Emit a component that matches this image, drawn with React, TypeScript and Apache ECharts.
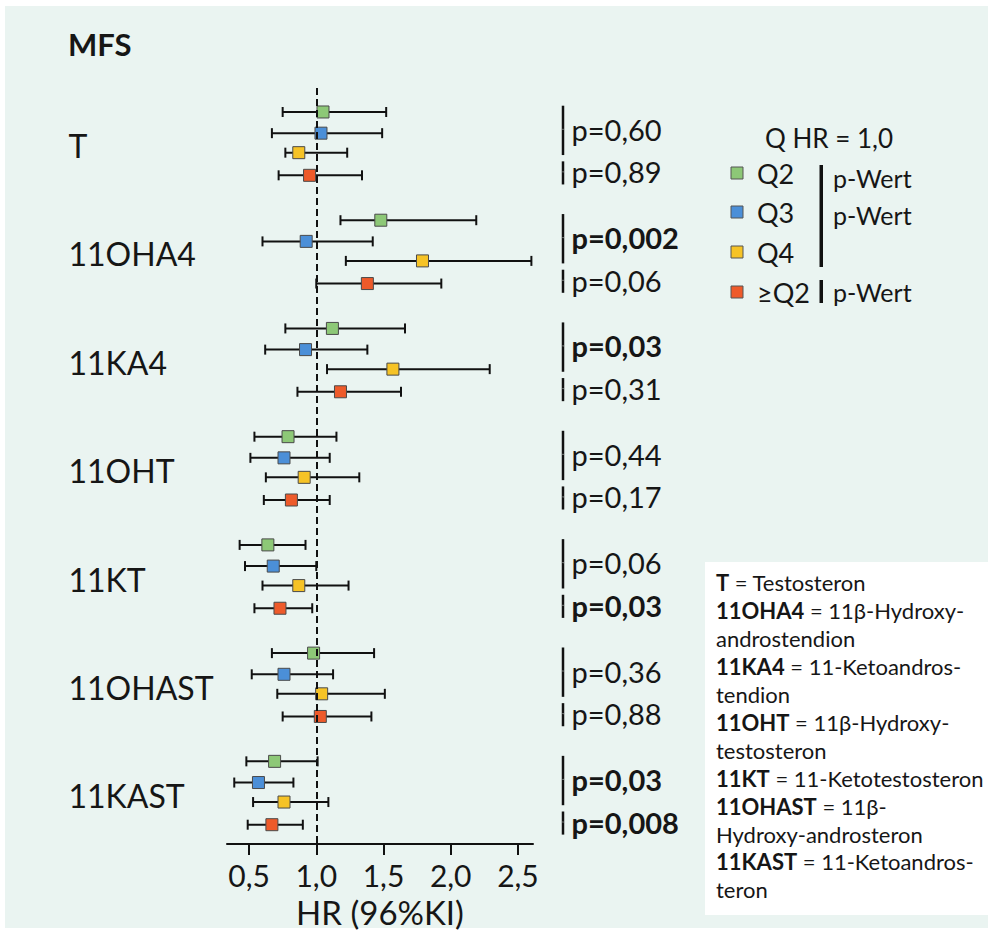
import React, { useEffect, useRef } from 'react';
import * as echarts from 'echarts';

// ---------- data ----------
const groups = ['T', '11OHA4', '11KA4', '11OHT', '11KT', '11OHAST', '11KAST'];
const quartiles = ['Q2', 'Q3', 'Q4', '≥Q2'];
const quartileColors = ['#8dc877', '#4b8fd8', '#f6c326', '#ee5a2a'];

// hazard ratio and 96% CI per group, for Q2, Q3, Q4, ≥Q2
const hrQ2 = [1.05, 1.48, 1.12, 0.79, 0.64, 0.98, 0.69];
const loQ2 = [0.75, 1.18, 0.77, 0.54, 0.43, 0.67, 0.48];
const hiQ2 = [1.52, 2.19, 1.66, 1.15, 0.92, 1.43, 1.01];
const hrQ3 = [1.035, 0.925, 0.92, 0.76, 0.68, 0.76, 0.57];
const loQ3 = [0.67, 0.6, 0.62, 0.51, 0.47, 0.52, 0.39];
const hiQ3 = [1.49, 1.42, 1.38, 1.1, 1.0, 1.125, 0.83];
const hrQ4 = [0.87, 1.79, 1.57, 0.91, 0.87, 1.04, 0.76];
const loQ4 = [0.77, 1.22, 1.08, 0.625, 0.6, 0.71, 0.53];
const hiQ4 = [1.23, 2.6, 2.29, 1.32, 1.24, 1.51, 1.09];
const hrAny = [0.95, 1.38, 1.18, 0.815, 0.73, 1.03, 0.67];
const loAny = [0.72, 1.0, 0.86, 0.61, 0.54, 0.75, 0.49];
const hiAny = [1.34, 1.93, 1.63, 1.1, 0.97, 1.41, 0.9];

// p-values: Q2–Q4 and ≥Q2
const pQuart = ['0,60', '0,002', '0,03', '0,44', '0,06', '0,36', '0,03'];
const pQuartBold = [false, true, true, false, false, false, true];
const pAnyQ2 = ['0,89', '0,06', '0,31', '0,17', '0,03', '0,88', '0,008'];
const pAnyQ2Bold = [false, false, false, false, true, false, true];

const xTicks = [0.5, 1.0, 1.5, 2.0, 2.5];

const abbreviations = [
  '{b|T} = Testosteron',
  '{b|11OHA4} = 11β-Hydroxy-',
  'androstendion',
  '{b|11KA4} = 11-Ketoandros-',
  'tendion',
  '{b|11OHT} = 11β-Hydroxy-',
  'testosteron',
  '{b|11KT} = 11-Ketotestosteron',
  '{b|11OHAST} = 11β-',
  'Hydroxy-androsteron',
  '{b|11KAST} = 11-Ketoandros-',
  'teron',
];

// ---------- layout ----------
const FONT = 'Lato, "Open Sans", sans-serif';
const TEXT = '#161616';
const BG = '#eaf4f1';
const GROUP_STEP = 5.16;
const ROW_OFFSETS = [0, 1.01, 1.94, 3.02];
const Y_MIN = -1.143;
const Y_MAX = 34.905;
const X_MIN = 0.336;
const X_MAX = 2.612;

const base = (g: number) => g * GROUP_STEP;

export default function App() {
  const ref = useRef<HTMLDivElement>(null);

  useEffect(() => {
    if (!ref.current) return;
    const chart = echarts.init(ref.current, undefined, { renderer: 'svg' });

    const hrs = [hrQ2, hrQ3, hrQ4, hrAny];
    const los = [loQ2, loQ3, loQ4, loAny];
    const his = [hiQ2, hiQ3, hiQ4, hiAny];

    const ciData: number[][] = [];
    groups.forEach((_, g) => {
      for (let q = 0; q < 4; q++) {
        ciData.push([los[q][g], his[q][g], base(g) + ROW_OFFSETS[q]]);
      }
    });

    const pBars: number[][] = [];
    const pLabels: any[] = [];
    groups.forEach((_, g) => {
      pBars.push([base(g) - 0.3, base(g) + 2.05]);
      pBars.push([base(g) + 2.35, base(g) + 3.45]);
      pLabels.push({
        value: [0, base(g) + 0.82],
        label: { formatter: 'p=' + pQuart[g], fontWeight: pQuartBold[g] ? 'bold' : 'normal' },
      });
      pLabels.push({
        value: [0, base(g) + 2.85],
        label: { formatter: 'p=' + pAnyQ2[g], fontWeight: pAnyQ2Bold[g] ? 'bold' : 'normal' },
      });
    });

    const yAxisBase = { type: 'value', min: Y_MIN, max: Y_MAX, inverse: true, show: false };
    const hiddenX = { type: 'value', min: 0, max: 1, show: false };

    const legendItemsY = [173, 212, 252, 292];
    const graphics: any[] = [
      { type: 'rect', z: -10, shape: { x: 5, y: 6, width: 983, height: 922 }, style: { fill: BG } },
      { type: 'text', x: 68, y: 44, style: { text: 'MFS', fontSize: 31, fontWeight: 'bold', fontFamily: FONT, fill: TEXT, verticalAlign: 'middle' } },
      { type: 'text', x: 765, y: 138, style: { text: 'Q HR = 1,0', fontSize: 26, fontFamily: FONT, fill: TEXT, verticalAlign: 'middle' } },
      { type: 'rect', shape: { x: 819.5, y: 165, width: 3.5, height: 102 }, style: { fill: '#111' } },
      { type: 'rect', shape: { x: 819.5, y: 280, width: 3.5, height: 23 }, style: { fill: '#111' } },
      { type: 'text', x: 833, y: 178, style: { text: 'p-Wert', fontSize: 25, fontFamily: FONT, fill: TEXT, verticalAlign: 'middle' } },
      { type: 'text', x: 833, y: 215, style: { text: 'p-Wert', fontSize: 25, fontFamily: FONT, fill: TEXT, verticalAlign: 'middle' } },
      { type: 'text', x: 833, y: 292, style: { text: 'p-Wert', fontSize: 25, fontFamily: FONT, fill: TEXT, verticalAlign: 'middle' } },
      { type: 'rect', shape: { x: 705, y: 562, width: 285, height: 353 }, style: { fill: '#ffffff' } },
      {
        type: 'text',
        x: 716,
        y: 569,
        style: {
          text: abbreviations.join('\n'),
          fontSize: 22,
          fontFamily: FONT,
          fill: TEXT,
          lineHeight: 27.9,
          rich: {
            b: { fontSize: 22, fontFamily: FONT, fontWeight: 'bold', fill: TEXT, lineHeight: 27.9 },
          },
        },
      },
    ];
    quartiles.forEach((q, i) => {
      graphics.push({
        type: 'rect',
        shape: { x: 731, y: legendItemsY[i] - 6, width: 12, height: 12 },
        style: { fill: quartileColors[i], stroke: '#555', lineWidth: 1 },
      });
      graphics.push({
        type: 'text',
        x: 757,
        y: legendItemsY[i],
        style: { text: q, fontSize: 27, fontFamily: FONT, fill: TEXT, verticalAlign: 'middle' },
      });
    });

    const option: any = {
      animation: false,
      backgroundColor: '#ffffff',
      textStyle: { fontFamily: FONT },
      grid: [
        { left: 227, right: 990 - 533, top: 88, bottom: 933 - 845 },
        { left: 68, width: 140, top: 88, bottom: 933 - 845 },
        { left: 563, width: 130, top: 88, bottom: 933 - 845 },
      ],
      xAxis: [
        {
          type: 'value',
          gridIndex: 0,
          position: 'bottom',
          min: X_MIN,
          max: X_MAX,
          splitLine: { show: false },
          axisLine: { show: true, onZero: false, lineStyle: { color: '#111', width: 2 } },
          axisTick: { show: true, customValues: xTicks, length: 11, lineStyle: { color: '#111', width: 2 } },
          axisLabel: {
            customValues: xTicks,
            margin: 16,
            fontSize: 30,
            color: TEXT,
            fontFamily: FONT,
            formatter: (v: number) => v.toFixed(1).replace('.', ','),
          },
          name: 'HR (96%KI)',
          nameLocation: 'middle',
          nameGap: 48,
          nameTextStyle: { fontSize: 33, color: TEXT, fontFamily: FONT },
        },
        { ...hiddenX, gridIndex: 1 },
        { ...hiddenX, gridIndex: 2 },
      ],
      yAxis: [
        { ...yAxisBase, gridIndex: 0 },
        { ...yAxisBase, gridIndex: 1 },
        { ...yAxisBase, gridIndex: 2 },
      ],
      graphic: graphics,
      series: [
        {
          type: 'scatter',
          xAxisIndex: 0,
          yAxisIndex: 0,
          data: [],
          z: 1,
          markLine: {
            silent: true,
            symbol: ['none', 'none'],
            label: { show: false },
            lineStyle: { type: [7, 4], color: '#111', width: 2 },
            data: [{ xAxis: 1 }],
          },
        },
        {
          type: 'custom',
          xAxisIndex: 0,
          yAxisIndex: 0,
          z: 2,
          encode: { x: [0, 1], y: 2 },
          data: ciData,
          renderItem: (params: any, api: any) => {
            const y = api.value(2);
            const p1 = api.coord([api.value(0), y]);
            const p2 = api.coord([api.value(1), y]);
            const h = 5;
            const st = { stroke: '#111', lineWidth: 2 };
            return {
              type: 'group',
              children: [
                { type: 'line', shape: { x1: p1[0], y1: p1[1], x2: p2[0], y2: p2[1] }, style: st },
                { type: 'line', shape: { x1: p1[0], y1: p1[1] - h, x2: p1[0], y2: p1[1] + h }, style: st },
                { type: 'line', shape: { x1: p2[0], y1: p2[1] - h, x2: p2[0], y2: p2[1] + h }, style: st },
              ],
            };
          },
        },
        ...quartiles.map((q, qi) => ({
          type: 'scatter',
          name: q,
          xAxisIndex: 0,
          yAxisIndex: 0,
          z: 3,
          symbol: 'rect',
          symbolSize: 12,
          itemStyle: { color: quartileColors[qi], borderColor: '#4a4a4a', borderWidth: 1, opacity: 1 },
          data: groups.map((_, g) => [hrs[qi][g], base(g) + ROW_OFFSETS[qi]]),
        })),
        {
          type: 'scatter',
          xAxisIndex: 1,
          yAxisIndex: 1,
          symbolSize: 1,
          itemStyle: { color: BG, opacity: 1 },
          data: groups.map((g, i) => ({ value: [0, base(i) + 1.6], name: g })),
          label: {
            show: true,
            position: 'right',
            distance: 0,
            formatter: '{b}',
            fontSize: 32,
            color: TEXT,
            opacity: 1,
            fontFamily: FONT,
          },
        },
        {
          type: 'custom',
          xAxisIndex: 2,
          yAxisIndex: 2,
          encode: { y: [0, 1] },
          data: pBars,
          renderItem: (params: any, api: any) => {
            const a = api.coord([0, api.value(0)]);
            const b = api.coord([0, api.value(1)]);
            return {
              type: 'line',
              shape: { x1: a[0], y1: a[1], x2: b[0], y2: b[1] },
              style: { stroke: '#111', lineWidth: 2.5 },
            };
          },
        },
        {
          type: 'scatter',
          xAxisIndex: 2,
          yAxisIndex: 2,
          symbolSize: 1,
          itemStyle: { color: BG, opacity: 1 },
          data: pLabels,
          label: {
            show: true,
            position: 'right',
            distance: 8,
            fontSize: 29,
            color: TEXT,
            opacity: 1,
            fontFamily: FONT,
          },
        },
      ],
    };

    chart.setOption(option);
    return () => chart.dispose();
  }, []);

  return (
    <div
      ref={ref}
      style={{ position: 'fixed', left: 0, top: 0, width: 990, height: 933 }}
    />
  );
}
